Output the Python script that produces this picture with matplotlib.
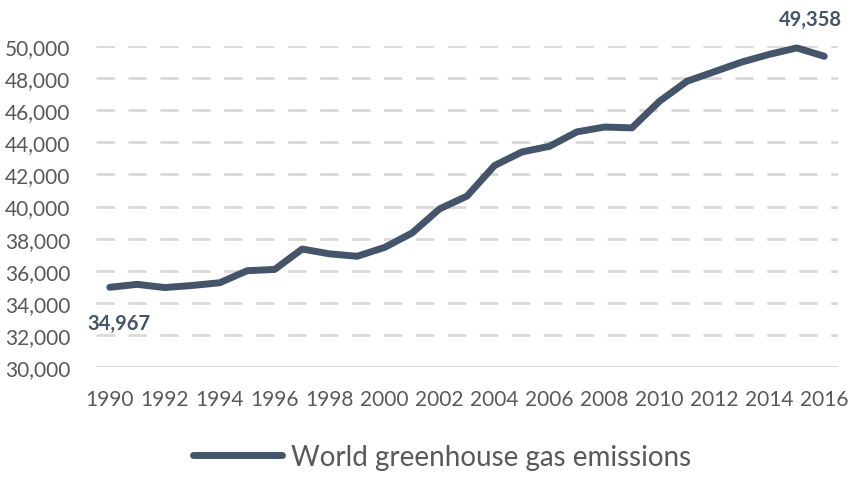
import matplotlib.pyplot as plt
from matplotlib.ticker import FuncFormatter

years = list(range(1990, 2017))
emissions = [34967, 35150, 34950, 35080, 35250, 36000, 36080, 37350, 37050, 36900,
             37450, 38350, 39850, 40650, 42550, 43400, 43750, 44650, 44950, 44900,
             46550, 47800, 48400, 49000, 49480, 49880, 49358]
tick_years = years[::2]
series_name = 'World greenhouse gas emissions'

line_color = '#44546A'
text_color = '#595959'
grid_color = '#D9D9D9'

plt.rcParams['font.family'] = ['Lato', 'DejaVu Sans']

fig = plt.figure(figsize=(8.52, 4.89), dpi=100)
ax = fig.add_axes([0.1127, 0.2474, 0.8709, 0.6565])

ax.plot(years, emissions, color=line_color, linewidth=5, solid_capstyle='round',
        solid_joinstyle='round', label=series_name, clip_on=False, zorder=3)

ax.set_xlim(years[0] - 0.5, years[-1] + 0.5)
ax.set_ylim(30000, 50000)
ax.set_yticks(range(30000, 50001, 2000))
ax.set_xticks(tick_years)
ax.yaxis.set_major_formatter(FuncFormatter(lambda v, p: f'{int(v):,}'))

for s in ax.spines.values():
    s.set_visible(False)
ax.tick_params(length=0, labelsize=15, colors=text_color)
ax.tick_params(axis='y', pad=18.5)
ax.tick_params(axis='x', pad=16)

ax.grid(axis='y', color=grid_color, linewidth=2, linestyle=(0, (6.6, 4.9)), zorder=0)
ax.axhline(30000, color=grid_color, linewidth=2, zorder=1)

# first / last value labels
ax.annotate(f'{emissions[0]:,}', (years[0], emissions[0]), xytext=(6.5, -26),
            textcoords='offset points', ha='center', va='center',
            fontsize=14.5, fontweight='bold', color=line_color)
ax.annotate(f'{emissions[-1]:,}', (years[-1], emissions[-1]), xytext=(-10, 27),
            textcoords='offset points', ha='center', va='center',
            fontsize=14.5, fontweight='bold', color=line_color)

leg = ax.legend(loc='center', frameon=False, fontsize=20, handlelength=3.2,
                handletextpad=0.35)
for t in leg.get_texts():
    t.set_color(text_color)
leg.set_bbox_to_anchor((0.519, 0.063), transform=fig.transFigure)

fig.savefig('out.png', dpi=100)
